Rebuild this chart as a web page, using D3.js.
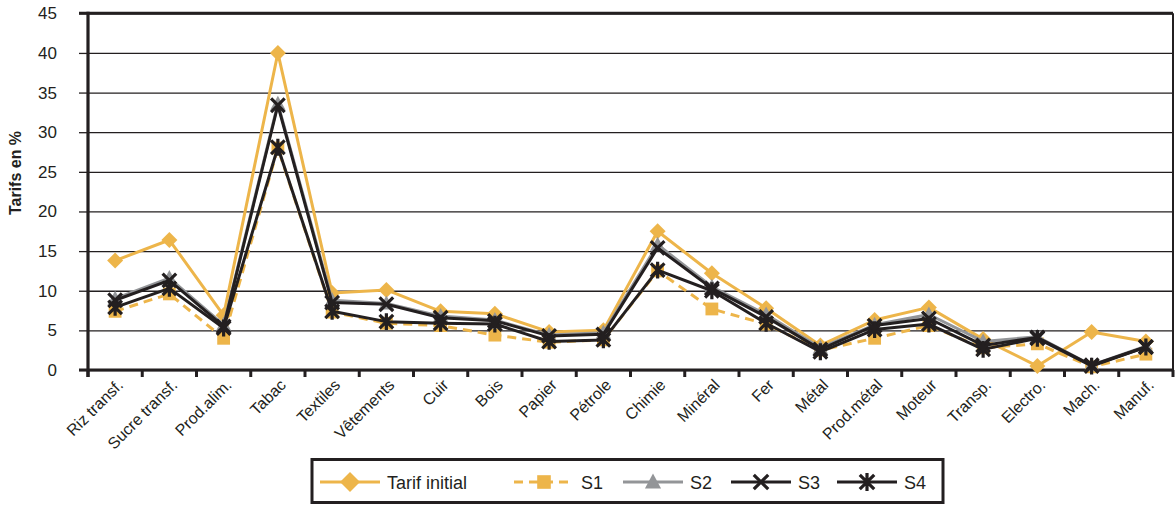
<!DOCTYPE html>
<html>
<head>
<meta charset="utf-8">
<script src="https://cdn.jsdelivr.net/npm/d3@7"></script>
<style>
  html, body { margin: 0; padding: 0; background: #fff; }
  svg { display: block; font-family: "Liberation Sans", Arial, Helvetica, sans-serif; }
</style>
</head>
<body>
<svg id="chart" width="1176" height="505"></svg>
<script>
// Secteurs
const categories = ["Riz transf.", "Sucre transf.", "Prod.alim.", "Tabac", "Textiles", "Vêtements", "Cuir", "Bois", "Papier", "Pétrole", "Chimie", "Minéral", "Fer", "Métal", "Prod.métal", "Moteur", "Transp.", "Electro.", "Mach.", "Manuf."];

// Tarifs (%) par scénario
const tarifInitial = [13.8, 16.4, 6.9, 40.0, 9.7, 10.1, 7.4, 7.1, 4.8, 5.0, 17.5, 12.2, 7.8, 3.1, 6.3, 7.9, 3.9, 0.5, 4.8, 3.6];
const s1 = [7.4, 9.6, 4.0, 28.0, 7.3, 5.9, 5.6, 4.4, 3.5, 3.8, 12.5, 7.7, 5.8, 2.5, 4.0, 5.6, 2.8, 3.3, 0.4, 2.0];
const s2 = [9.0, 11.6, 5.7, 33.6, 8.8, 8.4, 6.8, 6.3, 4.4, 4.7, 15.8, 10.5, 7.0, 2.8, 5.7, 7.0, 3.6, 4.2, 0.6, 3.0];
const s3 = [8.8, 11.3, 5.5, 33.4, 8.5, 8.3, 6.6, 6.2, 4.3, 4.5, 15.4, 10.3, 6.7, 2.6, 5.6, 6.5, 3.1, 4.1, 0.6, 2.9];
const s4 = [7.9, 10.3, 5.3, 28.1, 7.4, 6.1, 5.9, 5.8, 3.6, 3.8, 12.6, 10.0, 5.9, 2.3, 5.1, 5.8, 2.6, 4.0, 0.5, 2.9];

const yTicks = [0, 5, 10, 15, 20, 25, 30, 35, 40, 45];
const seriesNames = ["Tarif initial", "S1", "S2", "S3", "S4"];

const GOLD = "#EDB54A", INK = "#231F20", GREY = "#939598";

const series = [
  { name: seriesNames[0], values: tarifInitial, color: GOLD, dash: null, marker: "diamond" },
  { name: seriesNames[1], values: s1, color: GOLD, dash: "9,6", marker: "square" },
  { name: seriesNames[2], values: s2, color: GREY, dash: null, marker: "triangle" },
  { name: seriesNames[3], values: s3, color: INK, dash: null, marker: "cross" },
  { name: seriesNames[4], values: s4, color: INK, dash: null, marker: "star" }
];

const svg = d3.select("#chart");
const plotLeft = 88, plotRight = 1173, plotTop = 13.3, plotBottom = 370;

const x = d3.scaleBand().domain(categories).range([plotLeft, plotRight]).padding(0);
const y = d3.scaleLinear().domain([0, 45]).range([plotBottom, plotTop]);
const cx = d => x(d) + x.bandwidth() / 2;

// Grid lines with outer ticks on the left
const yAxis = d3.axisLeft(y).tickValues(yTicks).tickSize(9).tickPadding(22);
const gy = svg.append("g").attr("transform", `translate(${plotLeft},0)`).call(yAxis);
gy.select(".domain").remove();
gy.selectAll(".tick line").attr("stroke", INK).attr("stroke-width", 1.3);
gy.selectAll(".tick").append("line")
  .attr("x1", 0).attr("x2", plotRight - plotLeft)
  .attr("stroke", INK).attr("stroke-width", 1.3);
gy.selectAll(".tick text")
  .attr("fill", INK).style("font-size", "17px").style("font-family", "'Liberation Sans', Arial, sans-serif");

// Plot frame
svg.append("line").attr("x1", plotLeft - 9).attr("x2", plotRight).attr("y1", plotTop).attr("y2", plotTop)
  .attr("stroke", INK).attr("stroke-width", 3);
svg.append("line").attr("x1", plotRight).attr("x2", plotRight).attr("y1", plotTop).attr("y2", plotBottom)
  .attr("stroke", INK).attr("stroke-width", 2);

// Category axis: ticks at band boundaries
const boundaries = categories.map(c => x(c)).concat([plotRight]);
svg.append("g").selectAll("line").data(boundaries).join("line")
  .attr("x1", d => d).attr("x2", d => d).attr("y1", plotBottom).attr("y2", plotBottom + 7)
  .attr("stroke", INK).attr("stroke-width", 3);
svg.append("g").selectAll("text").data(categories).join("text")
  .attr("transform", d => `translate(${cx(d) + 9},${plotBottom + 16}) rotate(-45)`)
  .attr("text-anchor", "end")
  .attr("fill", INK)
  .style("font-size", "16px")
  .text(d => d);

// Axes lines
svg.append("line").attr("x1", plotLeft).attr("x2", plotLeft).attr("y1", plotTop - 1.5).attr("y2", plotBottom + 7)
  .attr("stroke", INK).attr("stroke-width", 3.2);
svg.append("line").attr("x1", plotLeft - 9).attr("x2", plotRight).attr("y1", plotBottom).attr("y2", plotBottom)
  .attr("stroke", INK).attr("stroke-width", 3.2);

// Axis title
svg.append("text")
  .attr("transform", `translate(21,173) rotate(-90)`)
  .attr("text-anchor", "middle")
  .attr("fill", INK)
  .style("font-size", "16px").style("font-weight", "bold")
  .text("Tarifs en %");

// Markers
function drawMarker(g, type, color, s) {
  if (type === "diamond") {
    g.append("path").attr("d", `M0,${-s}L${s},0L0,${s}L${-s},0Z`).attr("fill", color);
  } else if (type === "square") {
    g.append("rect").attr("x", -s * 0.8).attr("y", -s * 0.8).attr("width", s * 1.6).attr("height", s * 1.6).attr("fill", color);
  } else if (type === "triangle") {
    g.append("path").attr("d", `M0,${-s}L${s * 0.95},${s * 0.75}L${-s * 0.95},${s * 0.75}Z`).attr("fill", color);
  } else if (type === "cross") {
    const r = s * 0.85;
    g.append("path").attr("d", `M${-r},${-r}L${r},${r}M${-r},${r}L${r},${-r}`)
      .attr("stroke", color).attr("stroke-width", 3.2).attr("fill", "none");
  } else if (type === "star") {
    const r = s * 0.85;
    g.append("path").attr("d", `M${-r},${-r}L${r},${r}M${-r},${r}L${r},${-r}M0,${-s * 1.05}L0,${s * 1.05}`)
      .attr("stroke", color).attr("stroke-width", 3.2).attr("fill", "none");
  }
}

const line = d3.line().x((d, i) => cx(categories[i])).y(d => y(d));

series.forEach(sr => {
  const g = svg.append("g");
  g.append("path").datum(sr.values)
    .attr("d", line)
    .attr("fill", "none")
    .attr("stroke", sr.color)
    .attr("stroke-width", 3)
    .attr("stroke-linejoin", "round")
    .attr("stroke-dasharray", sr.dash);
  g.selectAll("g.pt").data(sr.values).join("g")
    .attr("class", "pt")
    .attr("transform", (d, i) => `translate(${cx(categories[i])},${y(d)})`)
    .each(function () { drawMarker(d3.select(this), sr.marker, sr.color, 8); });
});

// Legend
const legend = svg.append("g");
legend.append("rect").attr("x", 312).attr("y", 459.5).attr("width", 631).attr("height", 43)
  .attr("fill", "#fff").attr("stroke", INK).attr("stroke-width", 3);
const legendX = [320, 514, 623, 731, 837];
const ly = 482;
series.forEach((sr, i) => {
  const g = legend.append("g").attr("transform", `translate(${legendX[i]},${ly})`);
  g.append("line").attr("x1", 0).attr("x2", 60).attr("y1", 0).attr("y2", 0)
    .attr("stroke", sr.color).attr("stroke-width", 3).attr("stroke-dasharray", sr.dash);
  const m = g.append("g").attr("transform", "translate(30,0)");
  drawMarker(m, sr.marker, sr.color, sr.marker === "diamond" ? 10 : 8.5);
  g.append("text").attr("x", 67).attr("y", 6.5)
    .attr("fill", INK).style("font-size", "18px")
    .text(sr.name);
});
</script>
</body>
</html>
